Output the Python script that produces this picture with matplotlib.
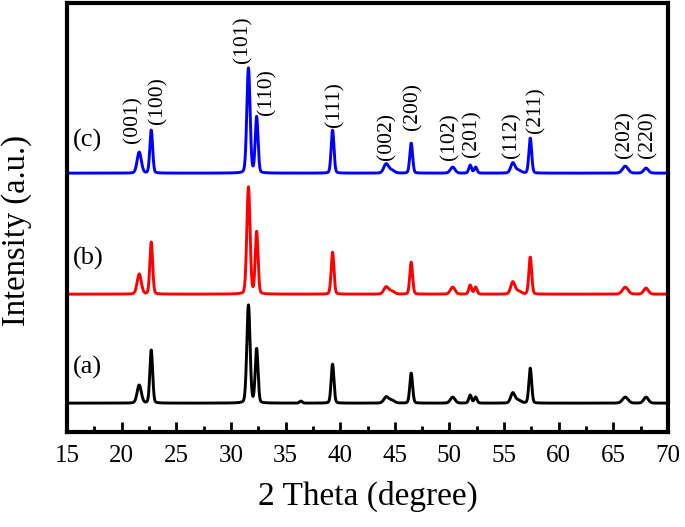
import numpy as np
import matplotlib
matplotlib.use("Agg")
import matplotlib.pyplot as plt
from matplotlib.ticker import MultipleLocator

plt.rcParams['font.family'] = ['Liberation Serif', 'DejaVu Serif']

# peak positions (2 theta)
peak_pos = [21.6, 22.7, 31.6, 32.35, 36.4, 39.3, 44.2, 44.7, 46.5, 50.3, 51.9, 52.4, 55.8, 56.3, 57.4, 66.1, 68.0]
peak_fwhm = [0.45, 0.3, 0.35, 0.3, 0.3, 0.3, 0.5, 0.6, 0.3, 0.5, 0.3, 0.3, 0.45, 0.6, 0.3, 0.6, 0.5]

# peak heights above baseline for each sample
heights_a = [18, 53, 98, 54, 2, 39, 6, 3, 30, 6, 8, 6, 10, 3, 35, 6, 6]
heights_b = [20, 52, 107, 62, 0, 42, 7, 3, 32, 7, 9, 7, 12, 3, 37, 7, 6]
heights_c = [21, 43, 105, 56, 0, 43, 9, 3, 30, 6, 8, 6, 10, 3, 35, 7, 5]

baselines = [29, 138, 259]
sample_labels = ['(a)', '(b)', '(c)']
label_y = [65, 174, 292]
colors = ['black', 'red', 'blue']

# hkl labels above trace (c)
hkl = ['(001)', '(100)', '(101)', '(110)', '(111)', '(002)', '(200)', '(102)', '(201)', '(112)', '(211)', '(202)', '(220)']
hkl_x = [21.0, 23.3, 31.1, 33.3, 39.5, 44.3, 46.65, 50.0, 52.05, 55.7, 57.9, 66.05, 68.15]
hkl_y = [289, 308, 369, 317, 305, 272, 302, 272, 275, 274, 299, 274, 274]

two_theta = np.linspace(15, 70, 3000)


def pattern(heights, base):
    y = np.full_like(two_theta, float(base))
    for p, w, h in zip(peak_pos, peak_fwhm, heights):
        s = w / 2.3548
        g = np.exp(-0.5 * ((two_theta - p) / s) ** 2)
        l = 1.0 / (1.0 + ((two_theta - p) / (w / 2)) ** 2)
        y += h * (0.85 * g + 0.15 * l)
    return y


fig = plt.figure(figsize=(6.85, 5.27), dpi=100)
ax = fig.add_axes([0.098, 0.18, 0.877, 0.814])

for heights, base, col in zip([heights_a, heights_b, heights_c], baselines, colors):
    ax.plot(two_theta, pattern(heights, base), color=col, lw=2.1)

for lab, yy in zip(sample_labels, label_y):
    ax.text(15.5, yy, lab, fontsize=19, va='center', ha='left')

for lab, xx, yy in zip(hkl, hkl_x, hkl_y):
    ax.text(xx, yy, lab, fontsize=15.5, rotation=90, ha='center', va='bottom')

ax.set_xlim(15, 70)
ax.set_ylim(0, 429)
ax.xaxis.set_major_locator(MultipleLocator(5))
ax.xaxis.set_minor_locator(MultipleLocator(2.5))
ax.tick_params(axis='x', which='major', direction='in', length=7, width=2, labelsize=18, pad=9)
ax.tick_params(axis='x', which='minor', direction='in', length=4, width=2)
ax.set_yticks([])
for sp in ax.spines.values():
    sp.set_linewidth(3)

ax.set_xlabel('2 Theta (degree)', fontsize=24, labelpad=10)
ax.set_ylabel('Intensity (a.u.)', fontsize=23.5)
ax.yaxis.set_label_coords(-0.058, 0.47)

fig.savefig('out.png', dpi=100)
